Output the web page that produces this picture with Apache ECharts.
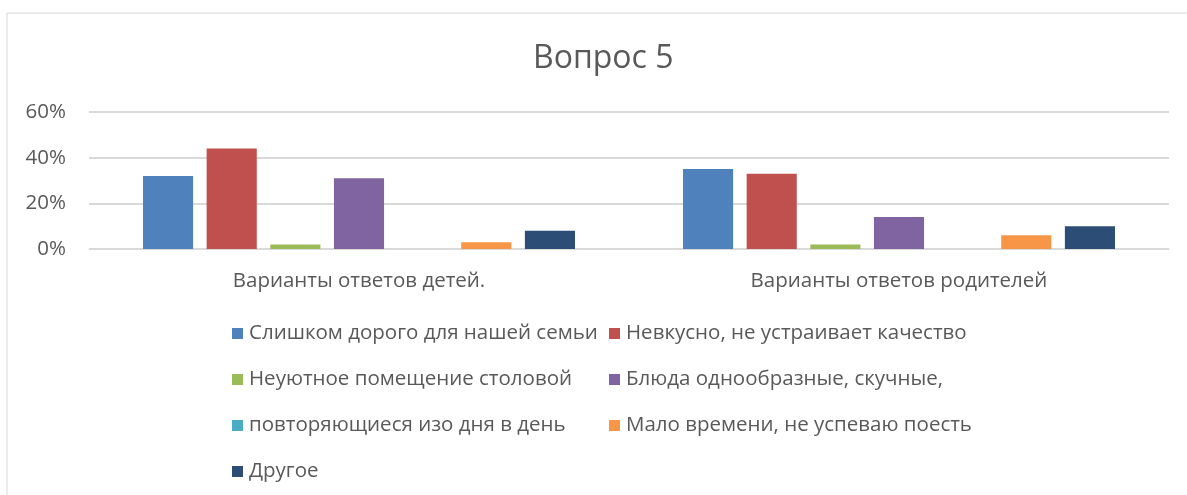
<!DOCTYPE html>
<html><head><meta charset="utf-8">
<script src="https://cdn.jsdelivr.net/npm/echarts@6/dist/echarts.min.js"></script>
<style>html,body{margin:0;padding:0;background:#fff}#c{width:1187px;height:495px}</style>
</head><body><div id="c"></div>
<script>
const title = 'Вопрос 5';
const categories = ['Варианты ответов детей.', 'Варианты ответов родителей'];
const seriesNames = [
  'Слишком дорого для нашей семьи',
  'Невкусно, не устраивает качество',
  'Неуютное помещение столовой',
  'Блюда однообразные, скучные,',
  'повторяющиеся изо дня в день',
  'Мало времени, не успеваю поесть',
  'Другое'
];
const s1 = [32, 35];
const s2 = [44, 33];
const s3 = [2, 2];
const s4 = [31, 14];
const s5 = [0, 0];
const s6 = [3, 6];
const s7 = [8, 10];
const yTicks = {min: 0, max: 60, interval: 20};

const colors = ['#4f81bd', '#c0504d', '#9bbb59', '#8064a2', '#4bacc6', '#f79646', '#2c4d75'];
const values = [s1, s2, s3, s4, s5, s6, s7];
const FONT = 'Open Sans';
const FS = 20.5;
const legendText = {fontFamily: FONT, fontSize: FS, lineHeight: 20, color: '#595959', padding: [0, 0, 0, 1]};
const chart = echarts.init(document.getElementById('c'));
chart.setOption({
  animation: false,
  color: colors,
  graphic: [{type: 'rect', shape: {x: 7, y: 13, width: 1300, height: 600}, style: {fill: 'none', stroke: '#d9d9d9', lineWidth: 1}, silent: true}],
  title: {text: title, left: 528, top: 38, textStyle: {fontFamily: FONT, fontSize: 32, fontWeight: 'normal', color: '#595959'}},
  grid: {left: 89, right: 18, top: 112, bottom: 246},
  legend: [
    {orient: 'vertical', left: 232, top: 323, padding: 0, itemWidth: 11, itemHeight: 11, itemGap: 25, icon: 'rect',
     data: [seriesNames[0], seriesNames[2], seriesNames[4], seriesNames[6]], textStyle: legendText},
    {orient: 'vertical', left: 609, top: 323, padding: 0, itemWidth: 11, itemHeight: 11, itemGap: 25, icon: 'rect',
     data: [seriesNames[1], seriesNames[3], seriesNames[5]], textStyle: legendText}
  ],
  xAxis: {type: 'category', data: categories,
    axisLine: {show: true, lineStyle: {color: '#d9d9d9', width: 1}}, axisTick: {show: false},
    axisLabel: {fontFamily: FONT, fontSize: FS, color: '#595959', margin: 22}},
  yAxis: {type: 'value', min: yTicks.min, max: yTicks.max, interval: yTicks.interval,
    axisLine: {show: false}, axisTick: {show: false},
    splitLine: {lineStyle: {color: '#d9d9d9', width: 2}},
    axisLabel: {formatter: '{value}%', fontFamily: FONT, fontSize: FS, color: '#595959', margin: 23}},
  series: seriesNames.map((n, i) => ({
    name: n, type: 'bar', data: values[i], barGap: '27%', barCategoryGap: '20%',
    itemStyle: {color: colors[i]}
  }))
});
</script></body></html>
